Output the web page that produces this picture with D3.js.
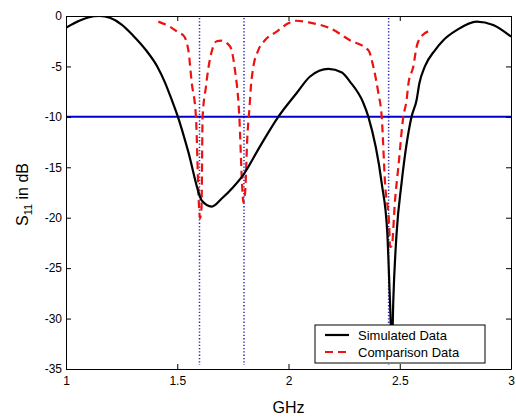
<!DOCTYPE html>
<html>
<head>
<meta charset="utf-8">
<script src="https://cdn.jsdelivr.net/npm/d3@7"></script>
<style>
  html, body { margin: 0; padding: 0; background: #fff; }
  svg text { font-family: "Liberation Sans", Arial, sans-serif; }
</style>
</head>
<body>
<svg id="chart" width="516" height="419"></svg>
<script>
// ---- data ----
const simFreq = [1.00,1.06,1.10,1.15,1.20,1.25,1.30,1.36,1.41,1.445,1.475,1.503,1.55,1.602,1.61,1.655,1.70,1.75,1.797,1.87,1.954,2.036,2.097,2.179,2.24,2.276,2.336,2.359,2.419,2.444,2.456,2.465,2.471,2.486,2.508,2.553,2.576,2.588,2.613,2.658,2.696,2.756,2.846,2.92,3.00];
const simDb   = [-1.16,-0.47,-0.15,0.0,-0.2,-0.85,-1.9,-3.4,-5.0,-6.6,-8.3,-10.0,-13.5,-17.9,-18.3,-18.9,-18.1,-17.0,-15.75,-13.0,-10.0,-7.66,-6.0,-5.25,-5.6,-6.5,-8.6,-10.0,-16.6,-21.5,-28.2,-33.0,-28.2,-21.5,-16.6,-10.0,-8.3,-6.7,-5.0,-3.4,-2.4,-1.4,-0.56,-0.9,-2.05];

const cmpFreq = [1.415,1.47,1.51,1.527,1.55,1.565,1.584,1.598,1.602,1.609,1.614,1.629,1.639,1.654,1.677,1.698,1.737,1.759,1.779,1.792,1.797,1.805,1.815,1.825,1.831,1.84,1.864,1.894,1.947,1.999,2.036,2.097,2.187,2.276,2.359,2.381,2.404,2.419,2.434,2.453,2.456,2.464,2.479,2.494,2.516,2.531,2.539,2.561,2.576,2.591,2.636];
const cmpDb   = [-0.56,-1.1,-1.7,-1.9,-3.4,-6.6,-10.0,-19.0,-20.05,-19.0,-10.0,-7.0,-5.3,-3.6,-2.5,-2.45,-3.0,-5.3,-10.0,-17.0,-18.5,-17.5,-12.0,-9.0,-7.0,-5.3,-3.4,-2.4,-1.55,-0.72,-0.47,-0.66,-1.22,-2.4,-3.4,-5.0,-7.66,-10.0,-16.6,-21.0,-22.9,-22.8,-18.2,-14.9,-10.0,-8.3,-6.7,-5.0,-3.04,-2.2,-1.45];

const thresholdDb = -10;
const markerFreq = [1.6, 1.8, 2.45];
const xTicks = [1, 1.5, 2, 2.5, 3];
const xTickLabels = ["1", "1.5", "2", "2.5", "3"];
const yTicks = [0, -5, -10, -15, -20, -25, -30, -35];
const yTickLabels = ["0", "-5", "-10", "-15", "-20", "-25", "-30", "-35"];
const legendLabels = ["Simulated Data", "Comparison Data"];

// ---- layout ----
const svg = d3.select("#chart");
const m = { left: 66, top: 16, right: 5, bottom: 50 };
const W = 516 - m.left - m.right;   // 445
const H = 419 - m.top - m.bottom;   // 353

const x = d3.scaleLinear().domain([1, 3]).range([0, W]);
const y = d3.scaleLinear().domain([-35, 0]).range([H, 0]);

const g = svg.append("g").attr("transform", `translate(${m.left},${m.top})`);

svg.append("defs").append("clipPath").attr("id", "clip")
  .append("rect").attr("x", 0).attr("y", 0).attr("width", W).attr("height", H);

const plot = g.append("g").attr("clip-path", "url(#clip)");

// vertical dotted markers
plot.selectAll("line.marker").data(markerFreq).enter().append("line")
  .attr("class", "marker")
  .attr("x1", d => x(d)).attr("x2", d => x(d))
  .attr("y1", y(0) + 2).attr("y2", y(-35) - 4)
  .attr("stroke", "#2a2ab0").attr("stroke-width", 1.5)
  .attr("stroke-dasharray", "1.3,2");

// threshold line
plot.append("line")
  .attr("x1", x(1)).attr("x2", x(3))
  .attr("y1", y(thresholdDb)).attr("y2", y(thresholdDb))
  .attr("stroke", "#0000cc").attr("stroke-width", 2);

const line = d3.line().x(d => x(d[0])).y(d => y(d[1])).curve(d3.curveMonotoneX);

plot.append("path")
  .datum(cmpFreq.map((f, i) => [f, cmpDb[i]]))
  .attr("d", line).attr("fill", "none")
  .attr("stroke", "#ee1111").attr("stroke-width", 2.2)
  .attr("stroke-dasharray", "8,5");

plot.append("path")
  .datum(simFreq.map((f, i) => [f, simDb[i]]))
  .attr("d", line).attr("fill", "none")
  .attr("stroke", "#000").attr("stroke-width", 2.2);

// axes (MATLAB-style box with inward ticks)
const fmtX = (d) => xTickLabels[xTicks.indexOf(d)];
const fmtY = (d) => yTickLabels[yTicks.indexOf(d)];

const axB = g.append("g").attr("transform", `translate(0,${H})`)
  .call(d3.axisBottom(x).tickValues(xTicks).tickFormat(fmtX).tickSize(-5).tickPadding(7).tickSizeOuter(0));
const axT = g.append("g")
  .call(d3.axisTop(x).tickValues(xTicks).tickFormat("").tickSize(-5).tickSizeOuter(0));
const axL = g.append("g")
  .call(d3.axisLeft(y).tickValues(yTicks).tickFormat(fmtY).tickSize(-5).tickPadding(4).tickSizeOuter(0));
const axR = g.append("g").attr("transform", `translate(${W},0)`)
  .call(d3.axisRight(y).tickValues(yTicks).tickFormat("").tickSize(-5).tickSizeOuter(0));

[axB, axT, axL, axR].forEach(a => {
  a.select(".domain").attr("stroke", "#000").attr("stroke-width", 1);
  a.selectAll(".tick line").attr("stroke", "#000");
  a.selectAll("text").attr("font-size", 12).attr("fill", "#000")
    .style("font-family", '"Liberation Sans", Arial, sans-serif');
});

// axis labels
svg.append("text")
  .attr("x", m.left + W / 2).attr("y", 413)
  .attr("text-anchor", "middle").attr("font-size", 16).attr("fill", "#000")
  .text("GHz");

const yl = svg.append("text")
  .attr("transform", `translate(28,${m.top + H / 2 + 2}) rotate(-90)`)
  .attr("text-anchor", "middle").attr("font-size", 16).attr("fill", "#000");
yl.append("tspan").text("S");
yl.append("tspan").attr("font-size", 11).attr("dy", 4).text("11");
yl.append("tspan").attr("dy", -4).text(" in dB");

// legend
const lg = svg.append("g").attr("transform", "translate(315,325)");
lg.append("rect").attr("width", 170).attr("height", 38)
  .attr("fill", "#fff").attr("stroke", "#000").attr("stroke-width", 1);
const lgStyles = [
  { stroke: "#000", dash: null },
  { stroke: "#ee1111", dash: "8,5" }
];
legendLabels.forEach((lab, i) => {
  const yy = 10 + i * 17;
  lg.append("line").attr("x1", 10).attr("x2", 34).attr("y1", yy).attr("y2", yy)
    .attr("stroke", lgStyles[i].stroke).attr("stroke-width", 2.2)
    .attr("stroke-dasharray", lgStyles[i].dash);
  lg.append("text").attr("x", 43).attr("y", yy + 4.5)
    .attr("font-size", 13).attr("fill", "#000").text(lab);
});
</script>
</body>
</html>
